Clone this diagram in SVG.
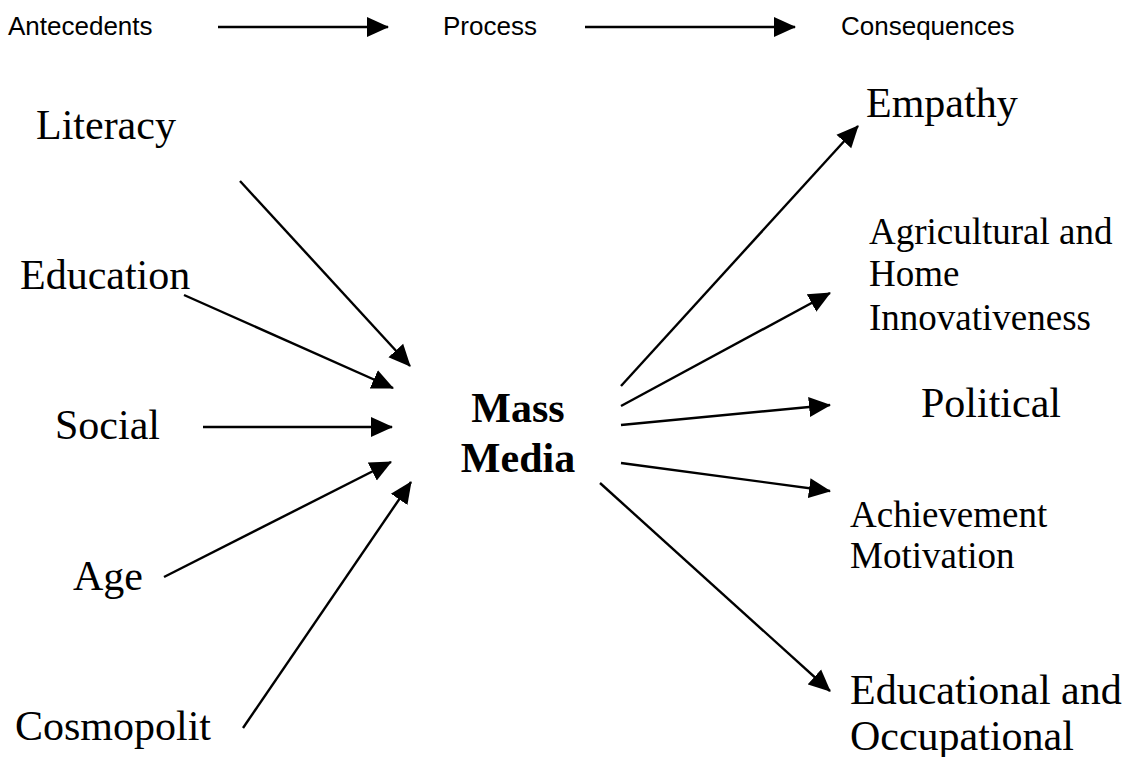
<svg xmlns="http://www.w3.org/2000/svg" width="1143" height="757" viewBox="0 0 1143 757">
<style>
.hdr{font-family:"Liberation Sans",Arial,sans-serif;font-size:26px;fill:#000}
.lbl{font-family:"Liberation Serif","Times New Roman",serif;font-size:42px;fill:#000}
.sm{font-family:"Liberation Serif","Times New Roman",serif;font-size:37px;fill:#000}
.bold{font-family:"Liberation Serif","Times New Roman",serif;font-size:42px;font-weight:bold;fill:#000}
.con{stroke:#000;stroke-width:2.4;fill:none;marker-end:url(#ah)}
</style>
<defs>
<marker id="ah" markerUnits="userSpaceOnUse" markerWidth="22" markerHeight="22" refX="21" refY="10" orient="auto" viewBox="0 0 22 20">
<path d="M0,0 L22,10 L0,20 z" fill="#000"/>
</marker>
</defs>
<rect width="1143" height="757" fill="#fff"/>
<g id="header">
<text class="hdr" x="8" y="35">Antecedents</text>
<text class="hdr" x="443" y="35">Process</text>
<text class="hdr" x="841" y="35">Consequences</text>
</g>
<g id="connectors">
<line class="con" x1="218" y1="27" x2="388" y2="27"/>
<line class="con" x1="585" y1="27" x2="795" y2="27"/>
<line class="con" x1="240" y1="181" x2="410" y2="366"/>
<line class="con" x1="184" y1="295" x2="393" y2="388"/>
<line class="con" x1="203" y1="427" x2="392" y2="427"/>
<line class="con" x1="164" y1="577" x2="391" y2="462"/>
<line class="con" x1="243" y1="728" x2="411" y2="482"/>
<line class="con" x1="621" y1="386" x2="858" y2="126"/>
<line class="con" x1="621" y1="406" x2="830" y2="293"/>
<line class="con" x1="621" y1="425" x2="830" y2="405"/>
<line class="con" x1="621" y1="463" x2="830" y2="491"/>
<line class="con" x1="600" y1="483" x2="830" y2="691"/>
</g>
<g id="literacy"><text class="lbl" x="36" y="139">Literacy</text></g>
<g id="education"><text class="lbl" x="20" y="289">Education</text></g>
<g id="social"><text class="lbl" x="55" y="439">Social</text></g>
<g id="age"><text class="lbl" x="73" y="590">Age</text></g>
<g id="cosmopolit"><text class="lbl" x="15" y="740">Cosmopolit</text></g>
<g id="mass-media">
<text class="bold" x="518" y="422" text-anchor="middle">Mass</text>
<text class="bold" x="518" y="472" text-anchor="middle">Media</text>
</g>
<g id="empathy"><text class="lbl" x="866" y="117">Empathy</text></g>
<g id="agricultural">
<text class="sm" x="869" y="244">Agricultural and</text>
<text class="sm" x="869" y="286">Home</text>
<text class="sm" x="869" y="330">Innovativeness</text>
</g>
<g id="political"><text class="lbl" x="921" y="417">Political</text></g>
<g id="achievement">
<text class="sm" x="850" y="527">Achievement</text>
<text class="sm" x="850" y="568">Motivation</text>
</g>
<g id="educational">
<text class="lbl" x="850" y="704">Educational and</text>
<text class="lbl" x="850" y="750">Occupational</text>
</g>
</svg>
